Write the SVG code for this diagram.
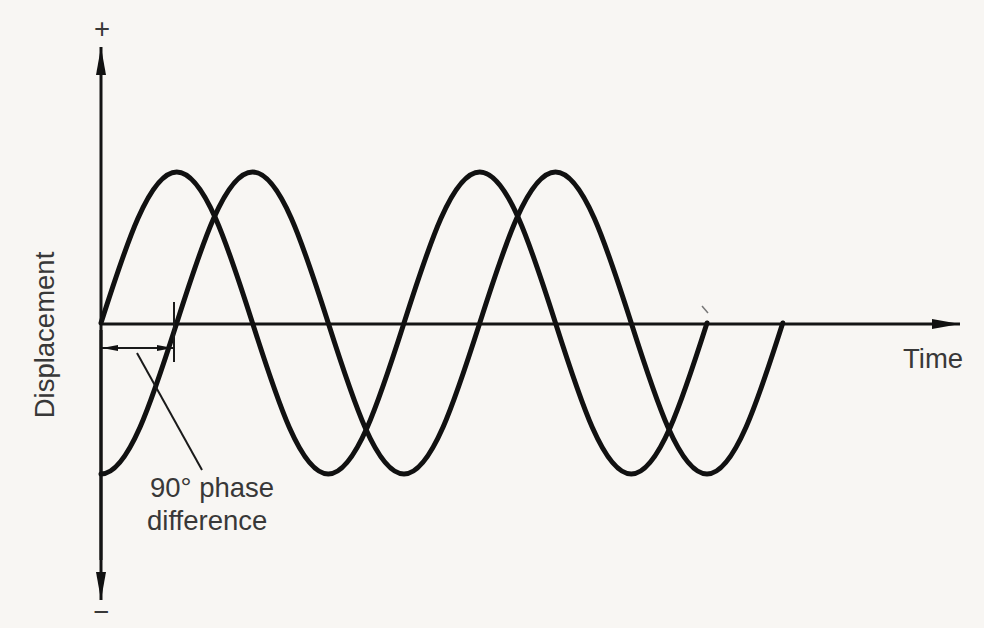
<svg xmlns="http://www.w3.org/2000/svg" width="984" height="628" viewBox="0 0 984 628">
<style>
.axis{stroke:#141414;stroke-width:3;fill:none}
.wave{stroke:#111;stroke-width:5;fill:none;stroke-linecap:round;stroke-linejoin:round}
.thin{stroke:#1a1a1a;stroke-width:2;fill:none}
.lbl{font-family:"Liberation Sans",Arial,sans-serif;font-size:27.5px;fill:#383838}
</style>
<defs>
<marker id="ah" viewBox="0 0 28 12" refX="28" refY="6" markerWidth="28" markerHeight="12" markerUnits="userSpaceOnUse" orient="auto">
<path d="M0,1 L28,6 L0,11 Z" fill="#111"/>
</marker>
<marker id="sh" viewBox="0 0 16 8" refX="16" refY="4" markerWidth="16" markerHeight="8" markerUnits="userSpaceOnUse" orient="auto">
<path d="M0,1 L16,4 L0,7 Z" fill="#111"/>
</marker>
</defs>
<rect width="984" height="628" fill="#f8f6f3"/>
<g id="connectors">
<line class="axis" x1="101" y1="560" x2="101" y2="47" marker-end="url(#ah)"/>
<line class="axis" x1="101" y1="330" x2="101" y2="600" marker-end="url(#ah)"/>
<line class="axis" x1="101" y1="324" x2="960" y2="324" marker-end="url(#ah)"/>
</g>
<g id="wave-1">
<path class="wave" d="M101,323 c24.70,-77.36 48.34,-151 75.75,-151 c27.41,0 51.05,73.64 75.75,151 c24.70,77.36 48.34,151 75.75,151 c27.41,0 51.05,-73.64 75.75,-151 c24.70,-77.36 48.34,-151 75.75,-151 c27.41,0 51.05,73.64 75.75,151 c24.70,77.36 48.34,151 75.75,151 c27.41,0 51.05,-73.64 75.75,-151"/>
</g>
<g id="wave-2">
<path class="wave" d="M101,474 c27.41,0 51.05,-73.64 75.75,-151 c24.70,-77.36 48.34,-151 75.75,-151 c27.41,0 51.05,73.64 75.75,151 c24.70,77.36 48.34,151 75.75,151 c27.41,0 51.05,-73.64 75.75,-151 c24.70,-77.36 48.34,-151 75.75,-151 c27.41,0 51.05,73.64 75.75,151 c24.70,77.36 48.34,151 75.75,151 c27.41,0 51.05,-73.64 75.75,-151"/>
</g>
<g id="phase-marker">
<line class="thin" x1="174" y1="302" x2="174" y2="362" stroke-width="2.5"/>
<line class="thin" x1="137" y1="348" x2="102" y2="348" marker-end="url(#sh)"/>
<line class="thin" x1="137" y1="348" x2="173" y2="348" marker-end="url(#sh)"/>
<line class="thin" x1="137" y1="353" x2="202" y2="470" stroke-width="1.8"/>
<text class="lbl" x="150" y="497">90° phase</text>
<text class="lbl" x="147" y="530">difference</text>
</g>
<g id="labels">
<text class="lbl" x="102" y="38" text-anchor="middle" font-size="34">+</text>
<text class="lbl" x="101" y="621" text-anchor="middle" font-size="28">−</text>
<text class="lbl" x="903" y="368">Time</text>
<text class="lbl" transform="translate(54,335) rotate(-90)" text-anchor="middle">Displacement</text>
</g>
<line x1="702" y1="306" x2="708" y2="313" stroke="#777" stroke-width="1.5"/>
</svg>
